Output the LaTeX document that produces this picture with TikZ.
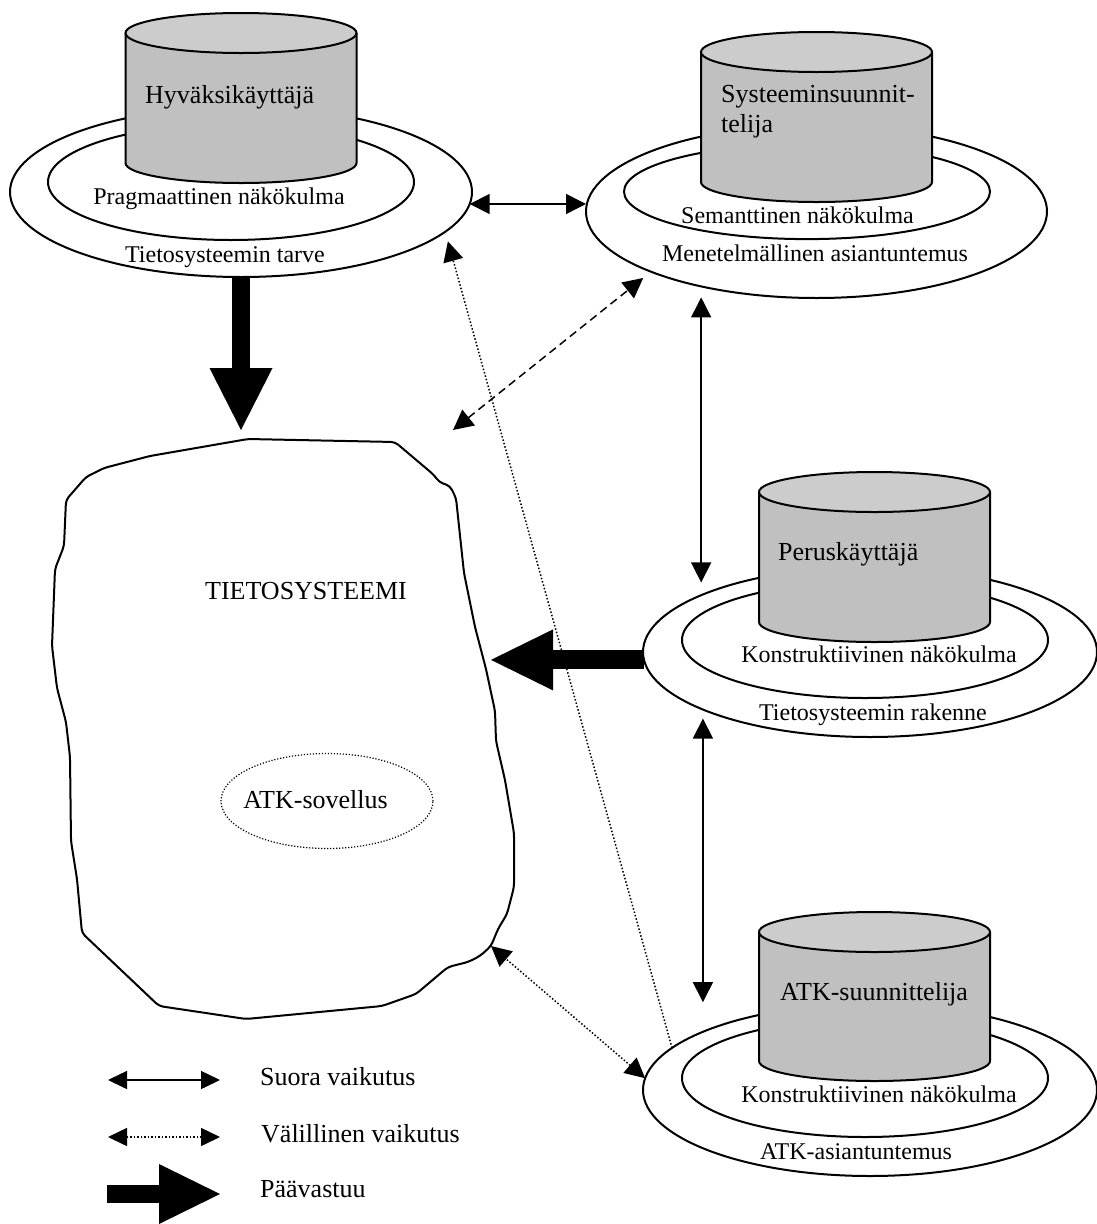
\documentclass[tikz,border=0pt]{standalone}
\usepackage{fontspec}
\setmainfont{Liberation Serif}
\usetikzlibrary{arrows.meta,shapes.geometric,calc}

\definecolor{bodygray}{RGB}{192,192,192}
\definecolor{topgray}{RGB}{204,204,204}

% A grey drum: centre x, y of the top rim, y of the bottom rim
\newcommand{\drawdrum}[3]{%
  \fill[bodygray] ({#1-115.5},#2) -- ({#1-115.5},#3)
    arc[start angle=180,end angle=0,x radius=115.5,y radius=20] -- ({#1+115.5},#2) -- cycle;
  \draw[outl] ({#1-115.5},#2) -- ({#1-115.5},#3)
    arc[start angle=180,end angle=0,x radius=115.5,y radius=20] -- ({#1+115.5},#2);
  \draw[outl,fill=topgray] (#1,#2) ellipse[x radius=115.5,y radius=20];
}

\begin{document}
\begin{tikzpicture}[x=1pt,y=-1pt,
  >={Triangle[length=20pt,width=20pt]},
  outl/.style={line width=2pt},
  ring/.style={draw,line width=2pt,fill=white,ellipse,inner sep=0pt,outer sep=0pt},
  direct/.style={line width=1.5pt,<->},
  indirect/.style={line width=1.5pt,dash pattern=on 1.5pt off 2pt},
  dashedlink/.style={line width=1.5pt,dash pattern=on 8pt off 5pt,<->},
  mainresp/.style={line width=#1,line cap=butt},
  biglabel/.style={font=\fontsize{26}{30}\selectfont,inner sep=0pt},
  ringlabel/.style={font=\fontsize{24}{28}\selectfont,inner sep=0pt},
]
\useasboundingbox (0,0) rectangle (1097,1224);

% ---- rings and drums ----
\node[ring,minimum width=462pt,minimum height=170pt] (o1) at (241,192) {};
\node[ring,minimum width=366pt,minimum height=116pt] (i1) at (231,182) {};
\drawdrum{241}{33}{163}

\node[ring,minimum width=461pt,minimum height=173pt] (o2) at (816.5,211.5) {};
\node[ring,minimum width=366pt,minimum height=95pt] (i2) at (807,191.6) {};
\drawdrum{816.5}{52}{182}

\node[ring,minimum width=454pt,minimum height=170pt] (o3) at (870,652) {};
\node[ring,minimum width=366pt,minimum height=116pt] (i3) at (865,640) {};
\drawdrum{874.5}{492}{622}

\node[ring,minimum width=454pt,minimum height=172pt] (o4) at (870,1090) {};
\node[ring,minimum width=366pt,minimum height=118pt] (i4) at (865,1078) {};
\drawdrum{874.5}{932}{1061}

% ---- the information system outline ----
\draw[outl,rounded corners=4pt]
  (248,439) -- (395,442) -- (434,475) -- (439,482) -- (450,486) -- (456,498)
  -- (464,573) -- (475,627) -- (486,669) -- (495,711) -- (496,741) -- (505,780)
  -- (514,833) -- (514,887) -- (507,914) -- (498,929) -- (491,946) -- (480,956)
  -- (468,962) -- (448,967) -- (416,994) -- (382,1006) -- (246,1019) -- (159,1006)
  -- (82,933) -- (77,879) -- (71,841) -- (70,757) -- (66,722) -- (57,688)
  -- (52,646) -- (55,569) -- (64,546) -- (66,500) -- (86,477) -- (104,468)
  -- (150,456) -- (225,443) -- cycle;
\coordinate (btop) at (241,440);
\coordinate (bright) at (484,659.5);
\coordinate (bcorner) at (491,946);

\node[draw,ellipse,line width=1.2pt,dash pattern=on 1.2pt off 1.8pt,inner sep=0pt,
      minimum width=212pt,minimum height=95pt] (app) at (327,801) {};

% ---- labels ----
\node[biglabel,anchor=base west] (n1) at (145,103) {Hyväksikäyttäjä};
\node[biglabel,anchor=west,align=left] (n2) at (721,112) {Systeeminsuunnit-\\telija};
\node[biglabel,anchor=base west] (n3) at (778,560) {Peruskäyttäjä};
\node[biglabel,anchor=base west] (n4) at (780,1000) {ATK-suunnittelija};

\node[ringlabel,anchor=base] (p1) at (219,204) {Pragmaattinen näkökulma};
\node[ringlabel,anchor=base] (t1) at (225,262) {Tietosysteemin tarve};
\node[ringlabel,anchor=base] (p2) at (797.5,223) {Semanttinen näkökulma};
\node[ringlabel,anchor=base] (t2) at (815,261) {Menetelmällinen asiantuntemus};
\node[ringlabel,anchor=base] (p3) at (879,662) {Konstruktiivinen näkökulma};
\node[ringlabel,anchor=base] (t3) at (873,720) {Tietosysteemin rakenne};
\node[ringlabel,anchor=base] (p4) at (879,1102) {Konstruktiivinen näkökulma};
\node[ringlabel,anchor=base] (t4) at (856,1159) {ATK-asiantuntemus};

\node[biglabel,anchor=base] (ts) at (306,599) {TIETOSYSTEEMI};
\node[biglabel,anchor=base] (appl) at (315.5,808) {ATK-sovellus};

% ---- influences ----
\draw[direct] (o1.357) -- (o1.357 -| o2.west);
\coordinate (dfree) at (453,430);
\draw[dashedlink,shorten >=10pt] (dfree) -- (o2.200);
\draw[direct,shorten <=11pt,shorten >=12pt] (o2.213) -- (o2.213 |- o3.161);
\draw[direct,shorten <=9pt,shorten >=30pt] (o3.199) -- (o3.199 |- o4.161);
\draw[indirect,->,shorten >=10pt] (o4.168) -- (o1.349);
\draw[indirect,<->] (o4.177) -- (bcorner);

% ---- main responsibilities ----
\draw[mainresp=18pt,-{Triangle[length=62pt,width=63pt,line width=0pt]},shorten >=10pt]
  (o1.south) -- (o1.south |- btop);
\draw[mainresp=19pt,-{Triangle[length=62pt,width=61pt,line width=0pt]},shorten >=7pt]
  (o3.182) -- (o3.182 -| bright);

% ---- legend ----
\coordinate (l1a) at (108,1080); \coordinate (l1b) at (220,1080);
\coordinate (l2a) at (108,1137); \coordinate (l2b) at (220,1137);
\coordinate (l3a) at (107,1194); \coordinate (l3b) at (220,1194);
\draw[line width=1.5pt,{Triangle[length=19pt,width=18pt]}-{Triangle[length=19pt,width=18pt]}] (l1a) -- (l1b);
\draw[indirect,{Triangle[length=19pt,width=18pt]}-{Triangle[length=19pt,width=18pt]}] (l2a) -- (l2b);
\draw[mainresp=18pt,-{Triangle[length=61pt,width=60pt,line width=0pt]}] (l3a) -- (l3b);

\node[biglabel,anchor=base west] (lg1) at (260,1085) {Suora vaikutus};
\node[biglabel,anchor=base west] (lg2) at (261,1142) {Välillinen vaikutus};
\node[biglabel,anchor=base west] (lg3) at (260,1197) {Päävastuu};
\end{tikzpicture}
\end{document}
